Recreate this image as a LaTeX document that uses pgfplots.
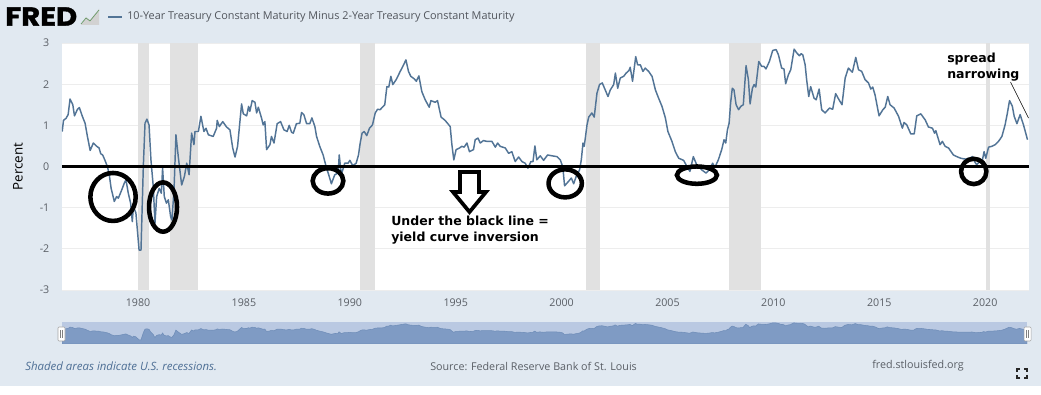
\documentclass[border=0pt]{standalone}
\usepackage{fontspec}
\setmainfont{Open Sans}
\newfontfamily\annot{DejaVu Sans}
\newfontfamily\logo[BoldFeatures={FakeBold=1.5}]{Poppins}
\usepackage{pgfplots}
\usepackage{pgfplotstable}
\pgfplotsset{compat=1.18}
\definecolor{pagebg}{HTML}{E1E9F1}
\definecolor{serie}{HTML}{527496}
\definecolor{rec}{HTML}{E1E1E1}
\definecolor{gridc}{HTML}{EDEDED}
\definecolor{tick}{HTML}{5A5F66}
\definecolor{navbg}{HTML}{BAC9E2}
\definecolor{navfill}{HTML}{7F9BC4}
\definecolor{navline}{HTML}{6F8DB8}
\definecolor{linkc}{HTML}{4E6F95}
\pgfplotstableread{
yr val
1976.42 0.85
1976.48 1.12
1976.60 1.17
1976.70 1.26
1976.79 1.64
1976.92 1.50
1977.00 1.23
1977.14 1.39
1977.23 1.43
1977.37 1.22
1977.50 1.05
1977.61 0.73
1977.74 0.39
1977.89 0.57
1978.05 0.49
1978.16 0.45
1978.24 0.31
1978.33 0.28
1978.44 0.15
1978.55 0.00
1978.63 -0.16
1978.73 -0.53
1978.88 -0.85
1978.99 -0.73
1979.07 -0.77
1979.23 -0.57
1979.34 -0.42
1979.43 -0.32
1979.54 -0.65
1979.65 -0.89
1979.73 -1.34
1979.78 -0.97
1979.90 -1.13
1980.05 -2.03
1980.14 -2.03
1980.25 0.00
1980.33 1.05
1980.42 1.15
1980.52 1.01
1980.61 0.16
1980.72 -0.49
1980.80 -1.38
1980.88 -0.73
1981.00 -0.53
1981.10 -0.65
1981.16 -0.04
1981.24 -0.73
1981.34 -0.89
1981.43 -0.81
1981.54 -1.22
1981.60 -1.30
1981.70 -0.57
1981.79 0.77
1981.90 0.24
1982.06 -0.45
1982.19 -0.24
1982.30 0.08
1982.41 -0.20
1982.53 0.81
1982.64 0.53
1982.69 0.85
1982.85 0.85
1982.97 1.22
1983.11 0.85
1983.21 0.93
1983.32 0.77
1983.55 0.73
1983.71 0.93
1983.74 1.12
1983.84 0.97
1984.00 1.09
1984.18 0.96
1984.34 0.89
1984.47 0.45
1984.58 0.23
1984.70 0.49
1984.89 1.52
1984.97 1.28
1985.13 1.23
1985.22 1.46
1985.28 1.34
1985.39 1.60
1985.52 1.56
1985.60 1.30
1985.68 1.44
1985.83 1.18
1985.91 1.01
1985.99 1.09
1986.07 0.41
1986.23 0.53
1986.30 0.73
1986.42 0.57
1986.57 1.04
1986.73 1.09
1986.89 0.89
1987.04 0.85
1987.14 1.00
1987.25 0.83
1987.33 0.81
1987.48 1.04
1987.64 1.05
1987.72 1.31
1987.83 1.26
1987.96 1.04
1988.11 1.04
1988.21 1.18
1988.35 0.97
1988.43 0.73
1988.58 0.49
1988.74 0.28
1988.90 -0.04
1988.98 -0.16
1989.13 -0.42
1989.29 -0.20
1989.45 -0.16
1989.50 0.28
1989.60 -0.20
1989.76 0.08
1989.92 0.08
1990.00 0.15
1990.14 0.02
1990.30 0.08
1990.41 0.28
1990.49 0.57
1990.58 0.81
1990.68 0.85
1990.80 0.75
1990.93 0.93
1991.07 1.01
1991.20 1.30
1991.31 1.39
1991.43 1.38
1991.65 1.50
1991.75 1.94
1991.84 1.93
1991.94 2.19
1992.03 1.99
1992.19 2.11
1992.38 2.31
1992.54 2.47
1992.65 2.59
1992.77 2.31
1992.88 2.19
1993.04 2.13
1993.14 2.07
1993.26 2.20
1993.40 1.82
1993.56 1.62
1993.75 1.44
1993.83 1.60
1994.03 1.56
1994.14 1.60
1994.31 1.20
1994.50 1.12
1994.74 0.97
1994.82 0.53
1994.91 0.16
1995.02 0.41
1995.18 0.45
1995.29 0.49
1995.40 0.47
1995.53 0.57
1995.65 0.36
1995.84 0.41
1995.92 0.65
1996.05 0.69
1996.16 0.57
1996.31 0.63
1996.47 0.61
1996.71 0.61
1996.87 0.47
1996.98 0.57
1997.10 0.49
1997.34 0.45
1997.50 0.32
1997.65 0.36
1997.81 0.12
1997.97 0.23
1998.13 0.12
1998.28 0.08
1998.41 -0.04
1998.55 0.12
1998.65 0.12
1998.74 0.50
1998.83 0.16
1998.99 0.26
1999.15 0.15
1999.34 0.28
1999.54 0.26
1999.78 0.24
1999.94 0.16
2000.06 -0.02
2000.14 -0.47
2000.33 -0.36
2000.46 -0.28
2000.57 -0.42
2000.69 -0.24
2000.85 -0.08
2000.93 0.16
2001.01 0.57
2001.07 0.49
2001.20 1.01
2001.28 1.20
2001.43 1.30
2001.54 1.20
2001.67 1.78
2001.79 1.99
2001.92 2.03
2002.06 1.86
2002.19 1.70
2002.30 1.86
2002.46 1.99
2002.54 2.27
2002.65 1.90
2002.77 2.15
2002.93 2.19
2003.05 2.27
2003.18 2.33
2003.24 2.41
2003.35 2.07
2003.50 2.67
2003.59 2.47
2003.72 2.47
2003.84 2.31
2003.95 2.39
2004.11 2.31
2004.27 2.19
2004.43 1.86
2004.58 1.66
2004.74 1.46
2004.90 1.18
2005.02 0.85
2005.21 0.61
2005.37 0.36
2005.53 0.20
2005.76 0.15
2005.92 0.00
2006.06 -0.12
2006.22 0.24
2006.38 0.04
2006.61 -0.08
2006.82 -0.16
2006.98 -0.08
2007.13 0.08
2007.24 -0.02
2007.40 0.16
2007.56 0.41
2007.67 0.65
2007.75 0.57
2007.83 0.89
2007.91 1.05
2007.98 1.54
2008.06 1.90
2008.14 1.86
2008.24 1.50
2008.36 1.38
2008.46 1.46
2008.58 1.50
2008.71 2.45
2008.82 2.11
2008.90 1.52
2009.01 1.90
2009.09 1.99
2009.17 1.93
2009.31 2.55
2009.45 2.43
2009.56 2.43
2009.65 2.37
2009.81 2.55
2009.97 2.82
2010.13 2.84
2010.24 2.71
2010.39 2.39
2010.50 2.37
2010.58 2.01
2010.71 2.23
2010.82 2.35
2010.98 2.85
2011.10 2.76
2011.23 2.69
2011.31 2.74
2011.39 2.71
2011.50 2.47
2011.57 2.11
2011.67 1.70
2011.76 1.94
2011.92 1.66
2012.02 1.62
2012.16 1.88
2012.28 1.38
2012.44 1.30
2012.65 1.42
2012.80 1.39
2012.94 1.77
2013.10 1.62
2013.24 1.50
2013.39 2.15
2013.54 2.39
2013.73 2.29
2013.89 2.65
2014.02 2.35
2014.17 2.31
2014.33 2.11
2014.49 2.03
2014.60 1.88
2014.69 1.93
2014.80 1.74
2014.99 1.23
2015.17 1.38
2015.28 1.44
2015.40 1.70
2015.51 1.50
2015.70 1.42
2015.91 1.22
2016.09 0.93
2016.17 1.07
2016.30 1.01
2016.49 0.79
2016.65 0.79
2016.77 1.23
2016.96 1.28
2017.17 1.13
2017.32 0.96
2017.51 0.93
2017.61 0.81
2017.67 0.87
2017.87 0.53
2017.98 0.61
2018.11 0.49
2018.27 0.45
2018.50 0.28
2018.66 0.24
2018.85 0.20
2019.06 0.18
2019.26 0.20
2019.40 0.24
2019.50 0.12
2019.60 0.04
2019.73 0.12
2019.84 0.08
2019.95 0.36
2020.03 0.20
2020.16 0.47
2020.31 0.49
2020.47 0.53
2020.63 0.61
2020.79 0.73
2020.94 1.01
2021.05 1.30
2021.15 1.60
2021.28 1.47
2021.37 1.22
2021.50 1.04
2021.65 1.26
2021.81 1.01
2022.00 0.65
}\spread
\begin{document}
\begin{tikzpicture}
\useasboundingbox (0,0) rectangle (780.75pt,296.25pt);
\fill[white] (0,0) rectangle (780.75pt,296.25pt);
\fill[pagebg] (0,6.75pt) rectangle (780.75pt,296.25pt);
% main chart
\begin{axis}[
  at={(46.5pt,78.75pt)}, anchor=south west,
  scale only axis, width=725.25pt, height=185.25pt,
  xmin=1976.41, xmax=2022.07, ymin=-3, ymax=3,
  axis line style={draw=none},
  axis background/.style={fill=white},
  xtick={1980,1985,...,2020}, ytick={-3,-2,-1,0,1,2,3},
  xticklabel style={/pgf/number format/1000 sep={},/pgf/number format/assume math mode=true,font=\fontsize{8pt}{9pt}\selectfont,text=tick,yshift=-3pt},
  yticklabel style={/pgf/number format/assume math mode=true,font=\fontsize{8pt}{9pt}\selectfont,text=tick,xshift=-6pt},
  major tick length=0pt,
  ymajorgrids, grid style={gridc,line width=0.7pt},
  ylabel={Percent}, ylabel style={font=\fontsize{8pt}{9pt}\selectfont,text=tick},
  every axis y label/.style={at={(rel axis cs:0,0.5)},rotate=90,yshift=33pt,anchor=center},
]
\fill[rec] (axis cs:1980.0,-3) rectangle (axis cs:1980.5,3);
\fill[rec] (axis cs:1981.5,-3) rectangle (axis cs:1982.83,3);
\fill[rec] (axis cs:1990.5,-3) rectangle (axis cs:1991.17,3);
\fill[rec] (axis cs:2001.17,-3) rectangle (axis cs:2001.83,3);
\fill[rec] (axis cs:2007.92,-3) rectangle (axis cs:2009.42,3);
\fill[rec] (axis cs:2020.02,-3) rectangle (axis cs:2020.22,3);
\addplot[serie,line width=1.1pt,line join=round] table[x=yr,y=val] {\spread};
\addplot[black,line width=1.6pt] coordinates {(1976.41,0)(2022.07,0)};
\draw[black,line width=3.4pt] (axis cs:1978.82,-0.74) ellipse [x radius=17pt,y radius=18pt];
\draw[black,line width=3.4pt] (axis cs:1981.18,-0.985) ellipse [x radius=10.5pt,y radius=18.5pt];
\draw[black,line width=3.4pt] (axis cs:1988.97,-0.35) ellipse [x radius=11.5pt,y radius=9.5pt];
\draw[black,line width=3.4pt] (axis cs:2000.17,-0.41) ellipse [x radius=12.5pt,y radius=10.5pt];
\draw[black,line width=3.4pt] (axis cs:2006.39,-0.21) ellipse [x radius=15pt,y radius=6.5pt];
\draw[black,line width=3.4pt] (axis cs:2019.46,-0.12) ellipse [x radius=9.5pt,y radius=9.5pt];
\end{axis}
% navigator
\begin{axis}[
  at={(46.5pt,38.25pt)}, anchor=south west,
  scale only axis, width=723.75pt, height=16.5pt,
  xmin=1976.41, xmax=2022.0, ymin=0, ymax=6.3,
  axis line style={draw=none}, ticks=none,
  axis background/.style={fill=navbg},
]
\addplot[navline,fill=navfill,line width=0.4pt] table[x=yr,y expr=\thisrow{val}+3.2] {\spread} \closedcycle;
\end{axis}
\begin{scope}[x=0.75pt,y=-0.75pt,shift={(0,296.25pt)}]
% handles
\draw[gray!70,fill=white,rounded corners=0.8pt,line width=0.4pt] (58,327) rectangle (65,341);
\draw[gray!70,fill=white,rounded corners=0.8pt,line width=0.4pt] (1024,327) rectangle (1031,341);
\foreach \hx in {60.5,62.5,1026.5,1028.5}{\draw[gray,line width=0.4pt] (\hx,330)--(\hx,338);}
% header
\node[anchor=west,inner sep=0pt,xscale=1.12,font={\logo\fontsize{19.5pt}{20pt}\bfseries\selectfont}] at (5,16.5) {FRED};
\fill[gray!35] (81,25)--(86,17)--(90,20)--(99,9)--(99,25)--cycle;
\draw[gray!80!green,line width=0.5pt] (81,24)--(86,18)--(90,21)--(99,10);
\draw[serie,line width=1pt] (108,17)--(122,17);
\node[anchor=west,inner sep=0pt,text=tick!90!black,font=\fontsize{8.14pt}{9pt}\selectfont] at (127,17) {10-Year Treasury Constant Maturity Minus 2-Year Treasury Constant Maturity};
% annotations
\draw[black,line width=2.8pt,line join=miter,fill=white] (460,172)--(479,172)--(479,192)--(486,192)--(469.5,212)--(453,192)--(460,192)--cycle;
\node[anchor=west,inner sep=0pt,align=left,font={\annot\fontsize{9.4pt}{12pt}\bfseries\selectfont}] at (391,230.5) {Under the black line =\\yield curve inversion};
\node[anchor=west,inner sep=0pt,align=left,font={\annot\fontsize{9.4pt}{12pt}\bfseries\selectfont}] at (947,67) {spread\\narrowing};
\draw[black,line width=0.4pt] (1010.5,82)--(1028.5,118);
% footer
\node[anchor=west,inner sep=0pt,text=linkc,font=\fontsize{8.58pt}{9pt}\itshape\selectfont] at (25,366) {Shaded areas indicate U.S. recessions.};
\node[anchor=west,inner sep=0pt,text=tick,font=\fontsize{8.05pt}{9pt}\selectfont] at (430,366) {Source: Federal Reserve Bank of St. Louis};
\node[anchor=west,inner sep=0pt,text=tick,font=\fontsize{8.05pt}{9pt}\selectfont] at (872,366) {fred.stlouisfed.org};
\draw[black!85,line width=1pt] (1017,372)--(1017,369)--(1020,369) (1024,369)--(1027,369)--(1027,372) (1027,375)--(1027,378)--(1024,378) (1020,378)--(1017,378)--(1017,375);
\end{scope}
\end{tikzpicture}
\end{document}
